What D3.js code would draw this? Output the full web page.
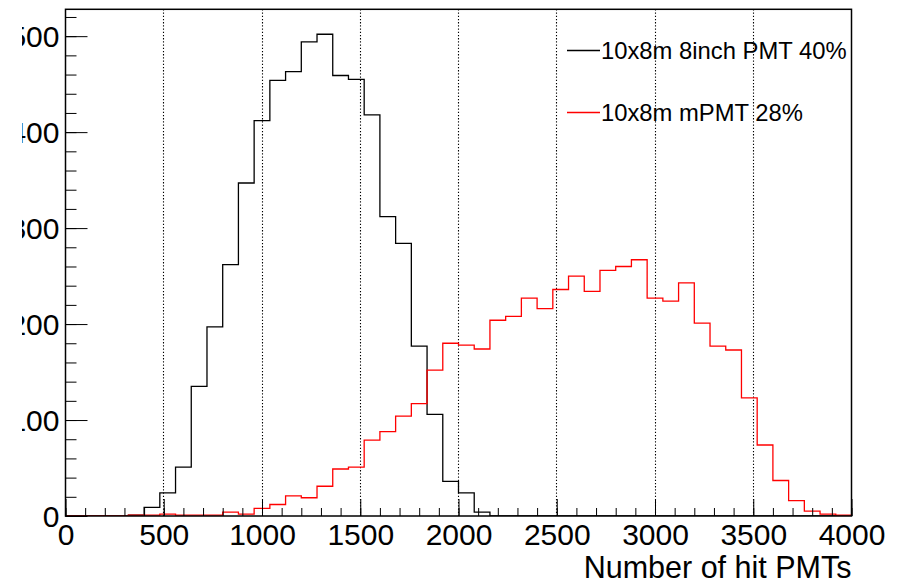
<!DOCTYPE html>
<html>
<head>
<meta charset="utf-8">
<script src="https://cdn.jsdelivr.net/npm/d3@7/dist/d3.min.js"></script>
<style>
  html, body { margin: 0; padding: 0; background: #fff; }
  svg { display: block; font-family: "Liberation Sans", Arial, Helvetica, sans-serif; }
</style>
</head>
<body>
<svg id="chart" width="899" height="585"></svg>
<script>
// ---- data ----
const binLow = d3.range(0, 4000, 80);           // 50 bins, width 80
const binWidth = 80;
const pmt8inch = [0,0,0,0,1,9,24,51,135,197,262,347,412,454,463,494,502,459,455,418,312,284,177,106,36,24,4,
  0,0,0,0,0,0,0,0,0,0,0,0,0,0,0,0,0,0,0,0,0,0,0];
const mPMT = [0,0,0,0,1,1,2,1,1,1,4,2,8,12,21,19,31,49,51,79,88,104,117,152,180,178,174,204,208,227,
  216,236,250,234,256,260,267,227,224,243,201,177,173,123,74,37,16,5,2,1];
const seriesNames = ["10x8m 8inch PMT 40%", "10x8m mPMT 28%"];
const seriesColors = ["#000000", "#ff0000"];
const xTicks = [0,500,1000,1500,2000,2500,3000,3500,4000];
const yTicks = [0,100,200,300,400,500];
const xTitle = "Number of hit PMTs";

// ---- layout ----
const L = 65.5, R = 851.5, T = 9.3, B = 516;
const svg = d3.select("#chart");
const x = d3.scaleLinear().domain([0, 4000]).range([L, R]);
const y = d3.scaleLinear().domain([0, 528]).range([B, T]);
const FONT = "Liberation Sans, Arial, sans-serif";

const defs = svg.append("defs");
defs.append("clipPath").attr("id", "plotclip")
  .append("rect").attr("x", L).attr("y", T).attr("width", R - L).attr("height", B - T);
defs.append("clipPath").attr("id", "ylabclip")
  .append("rect").attr("x", 22).attr("y", 0).attr("width", 60).attr("height", 585);

// vertical dotted grid
svg.append("g").selectAll("line").data(xTicks.filter(d => d > 0 && d < 4000)).join("line")
  .attr("x1", d => Math.floor(x(d)) + 0.5).attr("x2", d => Math.floor(x(d)) + 0.5)
  .attr("y1", T).attr("y2", B)
  .attr("stroke", "#000").attr("stroke-width", 1.1).attr("stroke-dasharray", "1.3,1.9");

// histograms
function stepPath(vals) {
  const pts = binLow.map((b, i) => [b, vals[i]]);
  pts.push([binLow[binLow.length - 1] + binWidth, vals[vals.length - 1]]);
  return d3.line().x(d => x(d[0])).y(d => y(d[1])).curve(d3.curveStepAfter)(pts);
}
const hg = svg.append("g").attr("clip-path", "url(#plotclip)");
[pmt8inch, mPMT].forEach((vals, k) => {
  hg.append("path").attr("d", stepPath(vals)).attr("fill", "none")
    .attr("stroke", seriesColors[k]).attr("stroke-width", 1.3);
});

// x axis minor ticks
svg.append("g").attr("transform", `translate(0,${B})`)
  .call(d3.axisBottom(x).tickValues(d3.range(0, 4001, 100)).tickSize(-8).tickFormat(""))
  .call(g => g.select(".domain").remove())
  .call(g => g.selectAll("line").attr("stroke", "#000").attr("stroke-width", 1));
// x axis major ticks + labels
svg.append("g").attr("transform", `translate(0,${B})`)
  .call(d3.axisBottom(x).tickValues(xTicks).tickSize(-17).tickPadding(8).tickFormat(d3.format("d")))
  .call(g => g.select(".domain").remove())
  .call(g => g.selectAll("line").attr("stroke", "#000").attr("stroke-width", 1))
  .call(g => g.selectAll("text").attr("font-size", 30).attr("fill", "#000")
    .attr("font-family", FONT).attr("dy", "0.71em"));

// y axis minor ticks
svg.append("g").attr("transform", `translate(${L},0)`)
  .call(d3.axisLeft(y).tickValues(d3.range(0, 521, 20)).tickSize(-11).tickFormat(""))
  .call(g => g.select(".domain").remove())
  .call(g => g.selectAll("line").attr("stroke", "#000").attr("stroke-width", 1));
// y axis major ticks + labels (labels clipped like the cropped original)
svg.append("g").attr("transform", `translate(${L},0)`)
  .call(d3.axisLeft(y).tickValues(yTicks).tickSize(-22).tickPadding(6).tickFormat(d3.format("d")))
  .call(g => g.select(".domain").remove())
  .call(g => g.selectAll("line").attr("stroke", "#000").attr("stroke-width", 1))
  .call(g => g.selectAll("text").remove());
svg.append("g").attr("clip-path", "url(#ylabclip)")
  .selectAll("text").data(yTicks).join("text")
  .attr("x", L - 6).attr("y", d => y(d)).attr("dy", "0.37em")
  .attr("text-anchor", "end").attr("font-size", 30).attr("font-family", FONT)
  .attr("fill", "#000").text(d3.format("d"));

// frame
svg.append("rect").attr("x", L).attr("y", T).attr("width", R - L).attr("height", B - T)
  .attr("fill", "none").attr("stroke", "#000").attr("stroke-width", 1.5);

// x title
svg.append("text").attr("x", R).attr("y", 578).attr("text-anchor", "end")
  .attr("font-size", 30.5).attr("font-family", FONT).attr("fill", "#000").text(xTitle);

// legend
const legY = [59, 121];
seriesNames.forEach((name, k) => {
  svg.append("line").attr("x1", 567).attr("x2", 600)
    .attr("y1", legY[k] - 8.5).attr("y2", legY[k] - 8.5)
    .attr("stroke", seriesColors[k]).attr("stroke-width", 1.3);
  svg.append("text").attr("x", 601).attr("y", legY[k]).attr("font-size", 23.8)
    .attr("font-family", FONT).attr("fill", "#000").text(name);
});
</script>
</body>
</html>
